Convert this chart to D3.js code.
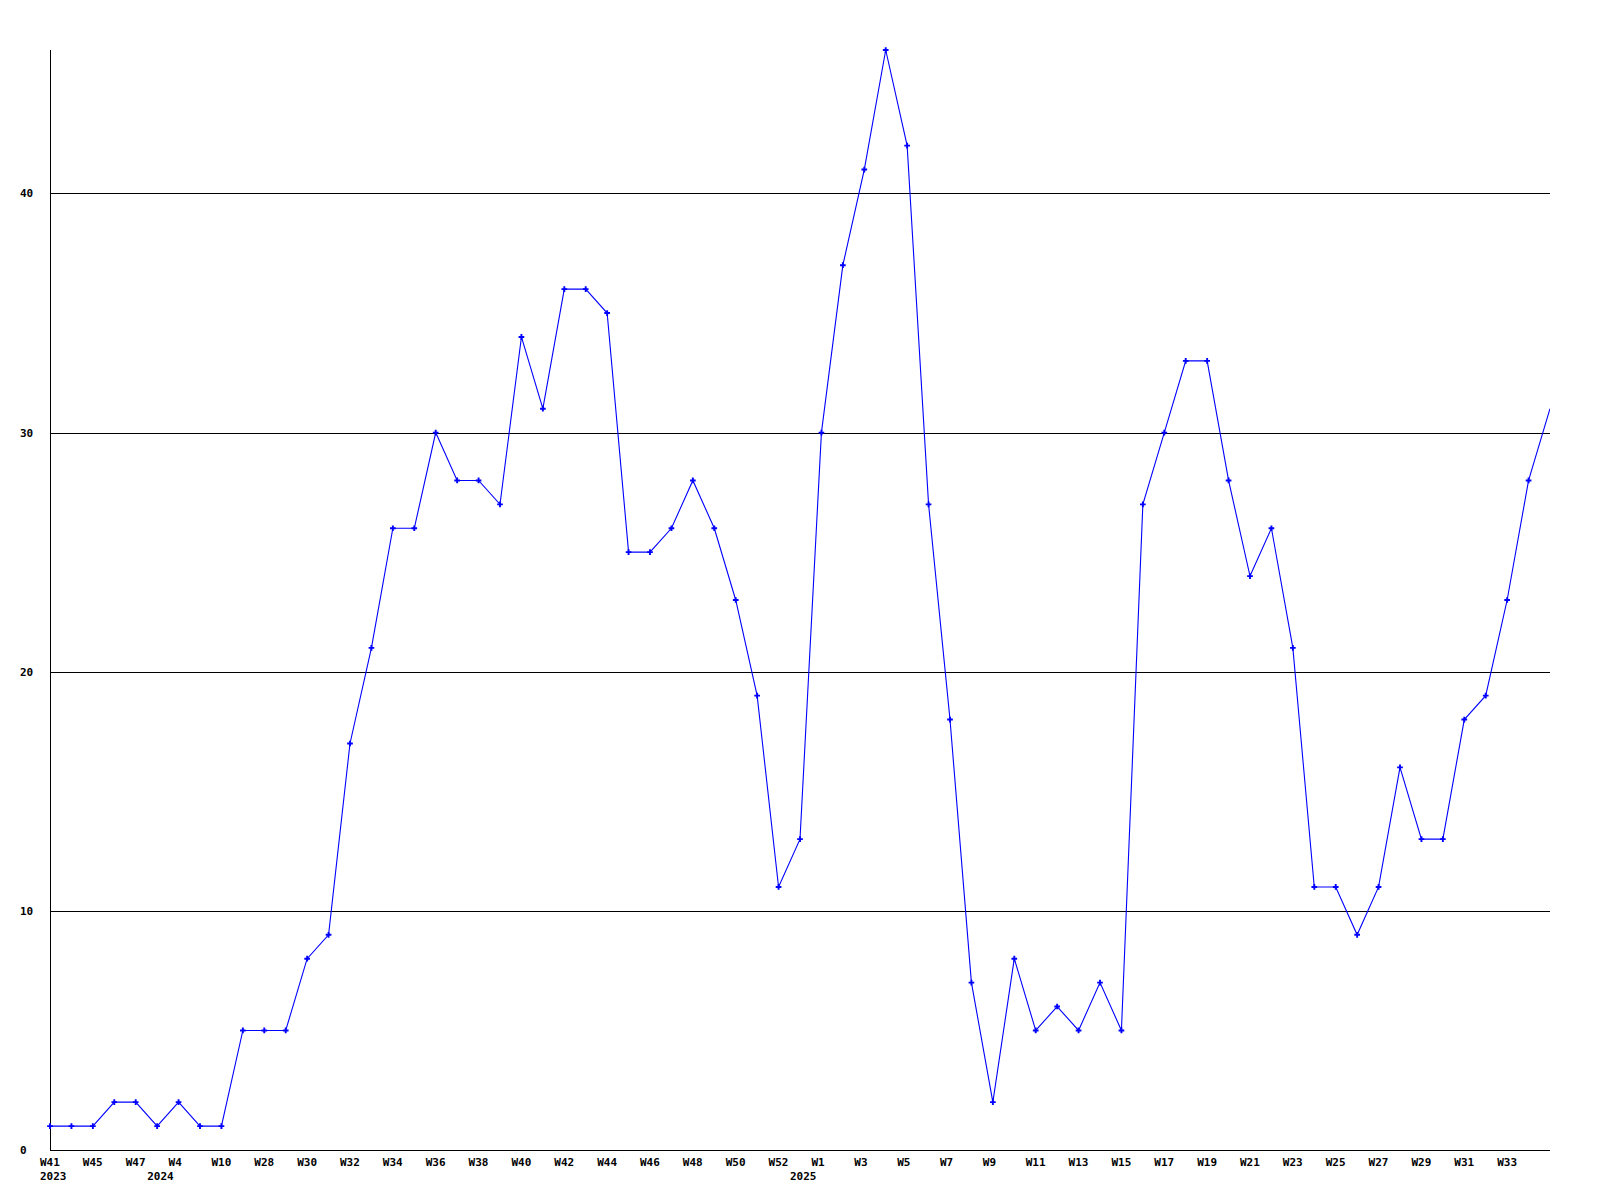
<!DOCTYPE html>
<html>
<head>
<meta charset="utf-8">
<script src="https://cdn.jsdelivr.net/npm/d3@7"></script>
<style>
  html, body { margin: 0; padding: 0; background: #fff; }
  svg { display: block; }
  text { font-family: "DejaVu Sans Mono", "Liberation Mono", monospace; font-weight: bold; font-size: 11px; fill: #000; }
</style>
</head>
<body>
<script>
// ---- data ----
const weeks = ["W41","W43","W45","W46","W47","W2","W4","W7","W10","W20",
  "W28","W29","W30","W31","W32","W33","W34","W35","W36","W37",
  "W38","W39","W40","W41","W42","W43","W44","W45","W46","W47",
  "W48","W49","W50","W51","W52","W53","W1","W2","W3","W4",
  "W5","W6","W7","W8","W9","W10","W11","W12","W13","W14",
  "W15","W16","W17","W18","W19","W20","W21","W22","W23","W24",
  "W25","W26","W27","W28","W29","W30","W31","W32","W33","W34","W35"];
const years = [2023,2023,2023,2023,2023,2024,2024,2024,2024,2024,
  2024,2024,2024,2024,2024,2024,2024,2024,2024,2024,
  2024,2024,2024,2024,2024,2024,2024,2024,2024,2024,
  2024,2024,2024,2024,2024,2024,2025,2025,2025,2025,
  2025,2025,2025,2025,2025,2025,2025,2025,2025,2025,
  2025,2025,2025,2025,2025,2025,2025,2025,2025,2025,
  2025,2025,2025,2025,2025,2025,2025,2025,2025,2025,2025];
const values = [1,1,1,2,2,1,2,1,1,5,
  5,5,8,9,17,21,26,26,30,28,
  28,27,34,31,36,36,35,25,25,26,
  28,26,23,19,11,13,30,37,41,46,
  42,27,18,7,2,8,5,6,5,7,
  5,27,30,33,33,28,24,26,21,11,
  11,9,11,16,13,13,18,19,23,28,31];
const yTicks = [0,10,20,30,40];
const yearLabels = [{year:"2023", index:0},{year:"2024", index:5},{year:"2025", index:35}];

// ---- chart ----
const W = 1600, H = 1200;
const mLeft = 50, mRight = 1550, mTop = 50, mBottom = 1150;
const keys = weeks.map((w,i) => years[i] + "-" + w);

const svg = d3.select("body").append("svg").attr("width", W).attr("height", H);

const x = d3.scalePoint().domain(keys).range([mLeft, mRight]);
const y = d3.scaleLinear().domain([0, 46]).range([mBottom, mTop]);

// gridlines
svg.append("g").selectAll("line").data(yTicks.filter(t => t > 0)).join("line")
  .attr("x1", mLeft).attr("x2", mRight)
  .attr("y1", d => Math.round(y(d)) + 0.5).attr("y2", d => Math.round(y(d)) + 0.5)
  .attr("stroke", "#000").attr("stroke-width", 1);

// y labels
svg.append("g").selectAll("text").data(yTicks).join("text")
  .attr("x", 20).attr("y", d => Math.round(y(d)) + 4)
  .text(d => d);

// axes lines
svg.append("line").attr("x1", mLeft + 0.5).attr("x2", mLeft + 0.5).attr("y1", mTop).attr("y2", mBottom + 1)
  .attr("stroke", "#000");
svg.append("line").attr("x1", mLeft).attr("x2", mRight).attr("y1", mBottom + 0.5).attr("y2", mBottom + 0.5)
  .attr("stroke", "#000");

// x tick labels (every other point)
svg.append("g").selectAll("text").data(keys.filter((k,i) => i % 2 === 0 && i < keys.length - 1)).join("text")
  .attr("x", d => x(d) - 10).attr("y", 1166)
  .text(d => d.split("-")[1]);

// year labels
svg.append("g").selectAll("text").data(yearLabels).join("text")
  .attr("x", d => x(keys[d.index]) - 10).attr("y", 1180)
  .text(d => d.year);

// clips
svg.append("clipPath").attr("id", "clip").append("rect")
  .attr("x", mLeft - 5).attr("y", mTop - 5).attr("width", mRight - mLeft + 5).attr("height", mBottom - mTop + 10);
svg.append("clipPath").attr("id", "clipm").append("rect")
  .attr("x", mLeft - 5).attr("y", mTop - 5).attr("width", mRight - mLeft + 1).attr("height", mBottom - mTop + 10);

const g = svg.append("g").attr("clip-path", "url(#clip)");
const line = d3.line().x((d,i) => x(keys[i])).y(d => y(d));
g.append("path").datum(values).attr("d", line)
  .attr("fill", "none").attr("stroke", "#0000ff").attr("stroke-width", 1.1);

const gm = svg.append("g").attr("clip-path", "url(#clipm)");
const sym = d3.symbol().type(d3.symbolCross).size(18);
gm.selectAll("path.m").data(values).join("path").attr("class", "m")
  .attr("transform", (d,i) => `translate(${x(keys[i])},${y(d)})`)
  .attr("d", sym).attr("fill", "#0000ff");
</script>
</body>
</html>
